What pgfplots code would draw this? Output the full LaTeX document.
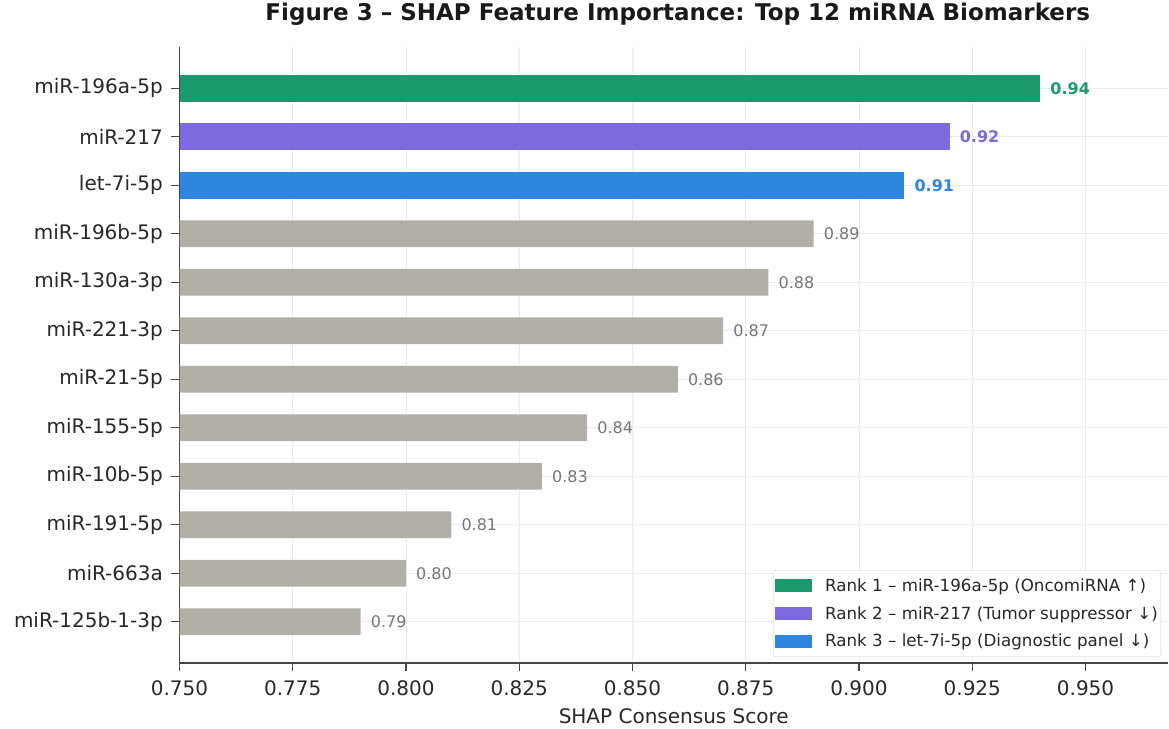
\documentclass[border=0pt]{standalone}
\usepackage{pgfplots}
\pgfplotsset{compat=1.18}
\usetikzlibrary{calc}
\usepackage{fontspec}
\setmainfont{DejaVu Sans}
\definecolor{cgreen}{RGB}{27,154,110}
\definecolor{cpurple}{RGB}{124,106,222}
\definecolor{cblue}{RGB}{46,134,222}
\definecolor{cgray}{RGB}{178,174,168}
\definecolor{lgray}{RGB}{118,118,118}
\definecolor{spine}{RGB}{70,70,70}
\definecolor{gridc}{RGB}{234,234,234}
\definecolor{txt}{RGB}{40,40,40}
\pgfplotsset{mybar/.style={xbar, bar width=0.55, bar shift=0pt, draw=none}}
\begin{document}
\begin{tikzpicture}
\useasboundingbox (0,0) rectangle (1169bp,729bp);
\begin{axis}[
  name=ax,
  at={(179.5bp,66bp)}, anchor=south west,
  scale only axis, width=988.5bp, height=616bp,
  xmin=0.75, xmax=0.9682, ymin=-0.85, ymax=11.85,
  axis x line*=bottom, axis y line*=left,
  axis line style={-, draw=spine, line width=1.2bp},
  xtick pos=bottom, ytick pos=left,
  tick align=outside, major tick length=8bp,
  major tick style={draw=spine, line width=1.2bp},
  xtick={0.75,0.775,0.8,0.825,0.85,0.875,0.9,0.925,0.95},
  ytick={0,1,2,3,4,5,6,7,8,9,10,11},
  yticklabels={miR-125b-1-3p,miR-663a,miR-191-5p,miR-10b-5p,miR-155-5p,miR-21-5p,miR-221-3p,miR-130a-3p,miR-196b-5p,let-7i-5p,miR-217,miR-196a-5p},
  xticklabel style={/pgf/number format/fixed, /pgf/number format/fixed zerofill, /pgf/number format/precision=3, /pgf/number format/assume math mode=true},
  tick label style={font=\fontsize{20bp}{24bp}\selectfont, text=txt},
  yticklabel style={anchor=east, inner sep=0pt, xshift=-8.5bp},
  xticklabel style={anchor=north, inner sep=0pt, yshift=-9.5bp},
  grid=major, grid style={draw=gridc, line width=1bp},
  point meta=x,
  nodes near coords={\pgfmathprintnumber[fixed,fixed zerofill,precision=2,assume math mode=true]{\pgfplotspointmeta}},
  every node near coord/.append style={font=\fontsize{16bp}{19bp}\selectfont, anchor=west, inner sep=0pt, xshift=10bp},
  title={Figure 3 – SHAP Feature Importance: Top 12 miRNA Biomarkers},
  title style={font=\fontsize{23bp}{28bp}\selectfont\bfseries, text=black!90, anchor=base, at={(axis description cs:0.5,1)}, yshift=20.6bp, xshift=4bp, inner sep=0pt},
  xlabel={SHAP Consensus Score},
  xlabel style={font=\fontsize{20bp}{24bp}\selectfont, text=txt, anchor=north, at={(axis description cs:0.5,0)}, yshift=-45.7bp, inner sep=0pt},
  legend style={at={(axis description cs:1,0)}, anchor=south east, xshift=-7bp, yshift=6bp,
    draw=black!20, rounded corners=3bp, fill=white, font=\fontsize{16.7bp}{20bp}\selectfont, text=txt,
    inner xsep=2bp, inner ysep=7.5bp, row sep=11.5bp, column sep=12bp, nodes={inner sep=1bp}},
  legend cell align=left,
  legend image code/.code={\fill[#1,draw=none,sharp corners] (0bp,-6.5bp) rectangle (37bp,6.5bp);},
]
\addplot[mybar, fill=cgreen, every node near coord/.append style={text=cgreen, font=\fontsize{16bp}{19bp}\selectfont\bfseries}] coordinates {(0.94,11)};
\addlegendentry{Rank 1 – miR-196a-5p (OncomiRNA ↑)}
\addplot[mybar, fill=cpurple, every node near coord/.append style={text=cpurple, font=\fontsize{16bp}{19bp}\selectfont\bfseries}] coordinates {(0.92,10)};
\addlegendentry{Rank 2 – miR-217 (Tumor suppressor ↓)}
\addplot[mybar, fill=cblue, every node near coord/.append style={text=cblue, font=\fontsize{16bp}{19bp}\selectfont\bfseries}] coordinates {(0.91,9)};
\addlegendentry{Rank 3 – let-7i-5p (Diagnostic panel ↓)}
\addplot[mybar, forget plot, fill=cgray, every node near coord/.append style={text=lgray}] coordinates {
(0.89,8) (0.88,7) (0.87,6) (0.86,5) (0.84,4) (0.83,3) (0.81,2) (0.80,1) (0.79,0)};
\end{axis}
% outward tick marks along the two spines
\foreach \i in {0,...,8} {\draw[draw=spine, line width=1.2bp] ($(ax.south west)+(\i*113.2539bp,0bp)$) -- ++(0bp,-8bp);}
\foreach \i in {0,...,11} {\draw[draw=spine, line width=1.2bp] ($(ax.south west)+(0bp,41.228bp+\i*48.5039bp)$) -- ++(-8bp,0bp);}
\end{tikzpicture}
\end{document}
